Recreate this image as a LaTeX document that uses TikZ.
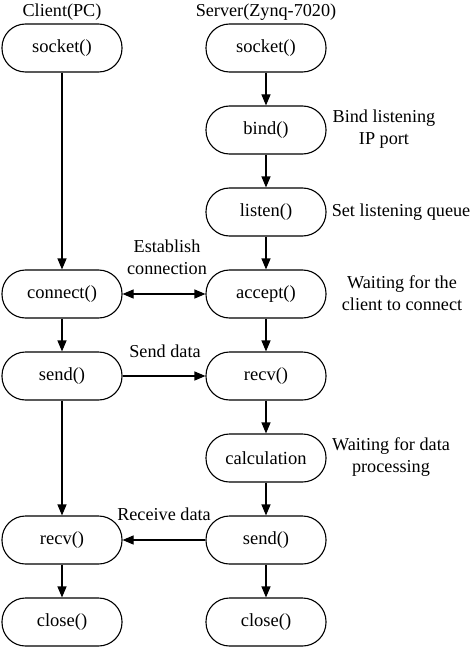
\documentclass[tikz,border=0pt]{standalone}
\usepackage{fontspec}
\setmainfont{Liberation Serif}
\usetikzlibrary{arrows.meta}
\begin{document}
\begin{tikzpicture}[x=1pt,y=-1pt,
  box/.style={draw,line width=1.1pt,rounded corners=23.5pt,minimum width=120pt,minimum height=48pt,inner sep=0pt,font=\fontsize{18.5}{22}\selectfont},
  lbl/.style={align=center,inner sep=0pt,font=\fontsize{18.2}{22}\selectfont},
  arr/.style={line width=1.1pt,-{Triangle[length=11pt,width=9pt]}},
  darr/.style={line width=1.1pt,{Triangle[length=11pt,width=9pt]}-{Triangle[length=11pt,width=9pt]}}]
\useasboundingbox (0,0) rectangle (474,647);
\node[lbl] (tc) at (62,12) {Client(PC)};
\node[lbl] (ts) at (266,12) {Server(Zynq-7020)};
\node[box] (cs) at (62,48) {socket()};
\node[box] (cc) at (62,294) {connect()};
\node[box] (cse) at (62,376) {send()};
\node[box] (cr) at (62,540) {recv()};
\node[box] (ccl) at (62,622) {close()};
\node[box] (ss) at (266,48) {socket()};
\node[box] (sb) at (266,130) {bind()};
\node[box] (sl) at (266,212) {listen()};
\node[box] (sa) at (266,294) {accept()};
\node[box] (sr) at (266,376) {recv()};
\node[box] (sc) at (266,458) {calculation};
\node[box] (sse) at (266,540) {send()};
\node[box] (scl) at (266,622) {close()};
\node[lbl] (l1) at (384,129) {Bind listening\\IP port};
\node[lbl] (l2) at (401,212) {Set listening queue};
\node[lbl] (l3) at (402,293) {Waiting for the\\client to connect};
\node[lbl] (l4) at (391,457) {Waiting for data\\processing};
\node[lbl] (l5) at (167,257) {Establish\\connection};
\node[lbl] (l6) at (165,351) {Send data};
\node[lbl] (l7) at (164,514) {Receive data};
\draw[arr] (cs) -- (cc);
\draw[arr] (cc) -- (cse);
\draw[arr] (cse) -- (cr);
\draw[arr] (cr) -- (ccl);
\draw[arr] (ss) -- (sb);
\draw[arr] (sb) -- (sl);
\draw[arr] (sl) -- (sa);
\draw[arr] (sa) -- (sr);
\draw[arr] (sr) -- (sc);
\draw[arr] (sc) -- (sse);
\draw[arr] (sse) -- (scl);
\draw[darr] (cc) -- (sa);
\draw[arr] (cse) -- (sr);
\draw[arr] (sse) -- (cr);
\end{tikzpicture}
\end{document}
